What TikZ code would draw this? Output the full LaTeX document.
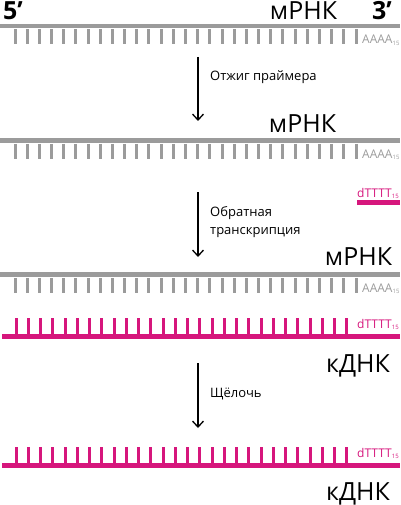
\documentclass[tikz,border=0pt]{standalone}
\usepackage{fontspec}
\setmainfont{Open Sans}
\usetikzlibrary{arrows.meta}
\definecolor{rnagray}{RGB}{155,155,155}
\definecolor{dnapink}{RGB}{214,22,124}
\newcommand{\sub}[1]{\raisebox{-1.5pt}{\fontsize{6}{6}\selectfont #1}}

\begin{document}
\begin{tikzpicture}[x=1pt, y=-1pt,
  big/.style={font=\fontsize{25}{25}\selectfont, inner sep=0pt, anchor=base},
  prime/.style={font=\bfseries\fontsize{25}{25}\selectfont, inner sep=0pt, anchor=base west},
  small/.style={font=\fontsize{13}{18.5}\selectfont, inner sep=0pt, anchor=base west, align=left},
  polya/.style={font=\fontsize{12}{12}\selectfont, text=rnagray, inner sep=0pt, anchor=base west},
  oligo/.style={font=\fontsize{12}{12}\selectfont, text=dnapink, inner sep=0pt, anchor=base west},
  rnabar/.style={rnagray, line width=4.5pt},
  rnatick/.style={rnagray, line width=3pt},
  dnabar/.style={dnapink, line width=5pt},
  dnatick/.style={dnapink, line width=3pt},
  flecha/.style={line width=1.3pt, -{Straight Barb[length=6pt, width=11pt]}}
]
  \useasboundingbox (0,0) rectangle (400,505);

  % Nodos
  \node[prime] (five) at (3,20) {5’};
  \node[prime] (three) at (372,20) {3’};
  \node[big] (mrna1) at (303.5,20) {мРНК};
  \node[polya] (polya1) at (362,44) {AAAA\sub{15}};

  \node[small] (step1) at (210,81) {Отжиг праймера};
  \node[big] (mrna2) at (302.5,133) {мРНК};
  \node[polya] (polya2) at (362,158) {AAAA\sub{15}};
  \node[oligo] (primer) at (357,197) {dTTTT\sub{15}};

  \node[small, anchor=north west] (step2) at (210,206) {Обратная\\транскрипция};
  \node[big] (mrna3) at (358.5,265) {мРНК};
  \node[polya] (polya3) at (362,292) {AAAA\sub{15}};
  \node[oligo] (oligo3) at (357,328) {dTTTT\sub{15}};
  \node[big] (cdna1) at (358,372) {кДНК};

  \node[small] (step3) at (210,397) {Щёлочь};
  \node[oligo] (oligo4) at (357,457) {dTTTT\sub{15}};
  \node[big] (cdna2) at (358,500) {кДНК};

  % Cadenas
  \draw[rnabar] (0,26) -- (400,26);
  \foreach \i in {0,...,28}
    \draw[rnatick] (15+12.18*\i,29.5) -- ++(0,14.5);

  \draw[rnabar] (0,140.5) -- (400,140.5);
  \foreach \i in {0,...,28}
    \draw[rnatick] (15+12.18*\i,144) -- ++(0,14.5);

  \draw[dnabar] (357,202.5) -- (400,202.5);

  \draw[rnabar] (0,274.5) -- (400,274.5);
  \foreach \i in {0,...,28}
    \draw[rnatick] (15+12.18*\i,278) -- ++(0,14.5);

  \draw[dnabar] (2,336) -- (400,336);
  \foreach \i in {0,...,27}
    \draw[dnatick] (16+12.25*\i,318) -- ++(0,16);

  \draw[dnabar] (2,465) -- (400,465);
  \foreach \i in {0,...,27}
    \draw[dnatick] (16+12.25*\i,447) -- ++(0,16);

  % Flechas
  \coordinate (a1) at (198,57);
  \coordinate (b1) at (198,121);
  \coordinate (a2) at (198,192);
  \coordinate (b2) at (198,257);
  \coordinate (a3) at (198,363);
  \coordinate (b3) at (198,428);
  \draw[flecha] (a1) -- (b1);
  \draw[flecha] (a2) -- (b2);
  \draw[flecha] (a3) -- (b3);
\end{tikzpicture}
\end{document}
